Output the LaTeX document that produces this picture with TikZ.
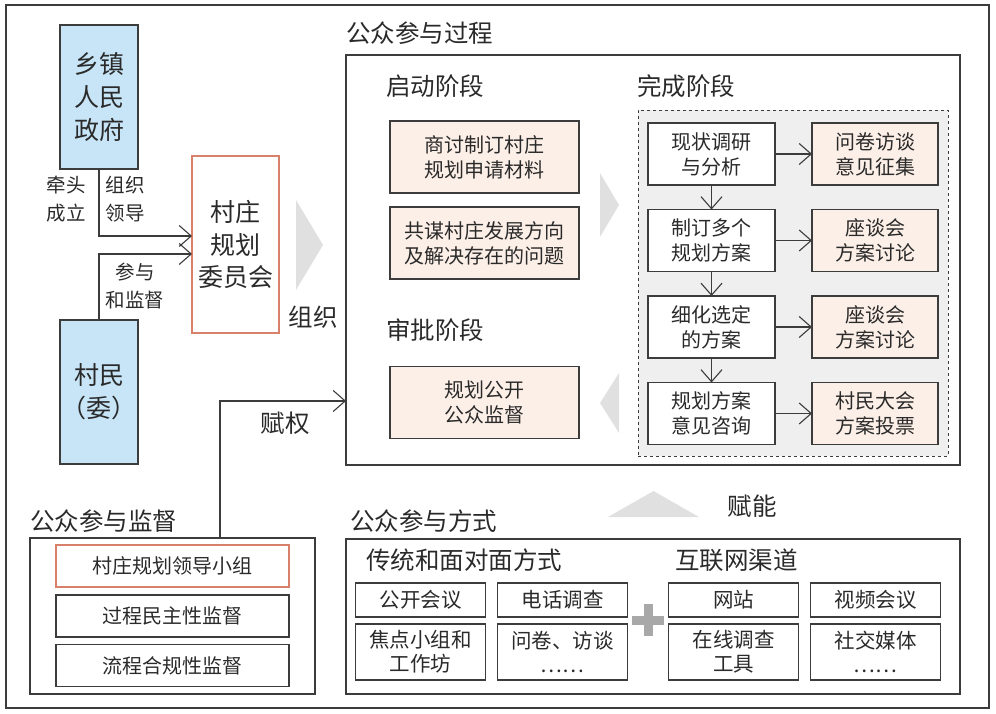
\documentclass[tikz,border=0pt]{standalone}
\usepackage{fontspec}
\setmainfont{Noto Sans CJK SC}
\usepackage{tikz}
\usetikzlibrary{positioning, arrows.meta}
\definecolor{PLline}{HTML}{3C3C3C}
\definecolor{PLtext}{HTML}{2A2A2A}
\definecolor{PLblue}{HTML}{C7E5F7}
\definecolor{PLorange}{HTML}{D9806A}
\definecolor{PLpeach}{HTML}{FCEFE7}
\definecolor{PLgrey}{HTML}{E0E0E0}
\definecolor{PLdash}{HTML}{EFEFEF}
\definecolor{PLplus}{HTML}{A8A8A8}
\newcommand{\pfs}[2]{\fontsize{#1}{#2}\selectfont}

\begin{document}
\begin{tikzpicture}[
  x=1pt, y=-1pt,
  font=\pfs{20}{25}, text=PLtext,
  box/.style={draw=PLline, line width=1.1pt, inner sep=0pt, outer sep=0pt,
              align=center},
  govbox/.style={box, fill=PLblue, minimum width=78pt, minimum height=144pt,
                 font=\pfs{25}{33}},
  combox/.style={box, draw=PLorange, fill=white, minimum width=87pt,
                 minimum height=177pt, font=\pfs{25}{32.5}},
  stagebox/.style={box, fill=PLpeach, minimum width=189pt, minimum height=72pt},
  stepbox/.style={box, fill=white, minimum width=127pt, minimum height=62pt},
  talkbox/.style={box, fill=PLpeach, minimum width=126pt, minimum height=62pt},
  supbox/.style={box, minimum width=233pt, minimum height=42pt},
  waybox/.style={box, fill=white, minimum width=130pt, minimum height=34pt,
                 font=\pfs{20.5}{24}},
  areabox/.style={draw=PLline, line width=1.1pt, inner sep=0pt, outer sep=0pt},
  title/.style={anchor=west, inner sep=0pt, font=\pfs{24.5}{30}},
  lbl/.style={inner sep=0pt, align=center, font=\pfs{19.5}{28}},
  arr/.style={-{Straight Barb[length=12pt, width=21pt]}, draw=PLline,
              line width=1.1pt},
  chev/.style={fill=PLgrey},
]
\useasboundingbox (0,0) rectangle (996,714);
\node[areabox, minimum width=983pt, minimum height=703pt] (page) at (497.5,356.5) {};

\node[govbox] (gov) at (99,97) {乡镇\\人民\\政府};
\node[govbox] (vil) at (99,392) {村民\\（委）};
\node[combox] (com) at (235.5,244.5) {村庄\\规划\\委员会};

\draw[arr] (gov.south) |- ([yshift=8.5pt]com.west);
\draw[arr] (vil.north) |- ([yshift=-9.5pt]com.west);

\node[lbl] (lead) at (66,199) {牵头\\成立};
\node[lbl] (guide) at (125,199) {组织\\领导};
\node[lbl] (join) at (135,286) {参与\\和监督};

\fill[chev] (296,200) -- (323,245) -- (296,290) -- cycle;
\node[title, anchor=center] (orglbl) at (313,317) {组织};

\node[areabox, minimum width=614pt, minimum height=410pt] (proc) at (653,260) {};
\node[title] (proct) at (346,33) {公众参与过程};

\node[title] (startt) at (386,86) {启动阶段};
\node[stagebox] (st1) at (484.5,157) {商讨制订村庄\\规划申请材料};
\node[stagebox, below=14pt of st1] (st2) {共谋村庄发展方向\\及解决存在的问题};
\node[title] (apprt) at (386,330) {审批阶段};
\node[stagebox] (appr) at (484.5,402.5) {规划公开\\公众监督};

\fill[chev] (600,173) -- (619,205) -- (600,237) -- cycle;
\fill[chev] (619,373) -- (600,403) -- (619,433) -- cycle;

\node[title] (donet) at (637,86) {完成阶段};
\node[draw=PLline, dashed, fill=PLdash, line width=0.8pt, inner sep=0pt,
      minimum width=310pt, minimum height=346pt] (done) at (793,283) {};
\node[stepbox] (s1) at (711.5,154) {现状调研\\与分析};
\node[stepbox, below=24.5pt of s1] (s2) {制订多个\\规划方案};
\node[stepbox, below=24.5pt of s2] (s3) {细化选定\\的方案};
\node[stepbox, below=24.5pt of s3] (s4) {规划方案\\意见咨询};
\node[talkbox, right=37pt of s1] (t1) {问卷访谈\\意见征集};
\node[talkbox, right=37pt of s2] (t2) {座谈会\\方案讨论};
\node[talkbox, right=37pt of s3] (t3) {座谈会\\方案讨论};
\node[talkbox, right=37pt of s4] (t4) {村民大会\\方案投票};

\draw[arr] (s1) -- (s2);
\draw[arr] (s2) -- (s3);
\draw[arr] (s3) -- (s4);
\draw[arr] (s1) -- (t1);
\draw[arr] (s2) -- (t2);
\draw[arr] (s3) -- (t3);
\draw[arr] (s4) -- (t4);

\node[areabox, minimum width=285pt, minimum height=156pt] (supframe) at (172.5,616) {};
\node[title] (supt) at (30,521) {公众参与监督};
\node[supbox, draw=PLorange] (sup1) at (172.5,566) {村庄规划领导小组};
\node[supbox, below=8pt of sup1] (sup2) {过程民主性监督};
\node[supbox, below=7.5pt of sup2] (sup3) {流程合规性监督};

\coordinate (empow) at (220,401);
\draw[arr] (supframe.north -| empow) |- (proc.west |- empow);
\node[title, anchor=center] (emplbl) at (285,423) {赋权};

\node[areabox, minimum width=614pt, minimum height=155pt] (ways) at (653,616.5) {};
\node[title] (wayst) at (350,521) {公众参与方式};
\node[title] (tradt) at (366,560) {传统和面对面方式};
\node[title] (nett) at (675,560) {互联网渠道};
\node[waybox] (w1) at (420.5,600) {公开会议};
\node[waybox] (w2) at (562.5,600) {电话调查};
\node[waybox] (w3) at (733.5,600) {网站};
\node[waybox] (w4) at (875.5,600) {视频会议};
\node[waybox, minimum height=56pt, below=7pt of w1] (w5) {焦点小组和\\工作坊};
\node[waybox, minimum height=56pt, below=7pt of w2] (w6) {问卷、访谈\\……};
\node[waybox, minimum height=56pt, below=7pt of w3] (w7) {在线调查\\工具};
\node[waybox, minimum height=56pt, below=7pt of w4] (w8) {社交媒体\\……};

\draw[PLplus, line width=9pt] (632,620) -- (664,620) (648,604) -- (648,636);

\fill[chev] (608,517) -- (653.5,491) -- (699,517) -- cycle;
\node[title, anchor=center] (enlbl) at (752,506) {赋能};
\end{tikzpicture}
\end{document}
